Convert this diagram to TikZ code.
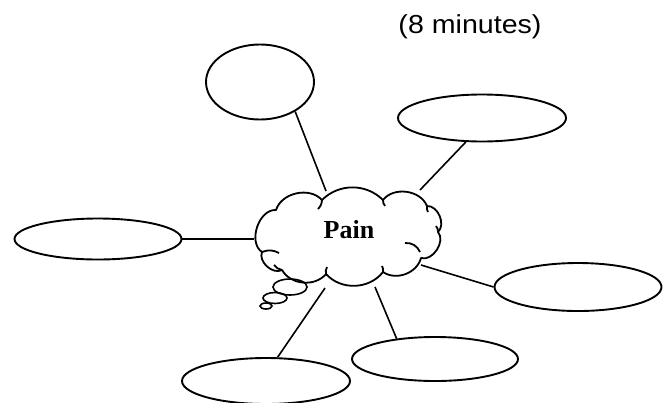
\documentclass[tikz,border=0pt]{standalone}
\usepackage{fontspec}
\setmainfont{Liberation Serif}
\newfontfamily\arialf{Liberation Sans}
\usetikzlibrary{shapes.geometric}
\tikzset{
  bubble/.style={draw, ellipse, line width=1.9pt, inner sep=0pt},
  link/.style={line width=1.6pt},
  cloudline/.style={line width=1.8pt, line join=round},
}
\begin{document}
\begin{tikzpicture}[x=1pt,y=-1pt]
\useasboundingbox (0,0) rectangle (668,402);
\begin{scope}
\clip (0,0) rectangle (668,402);
\node[font=\arialf\fontsize{26}{30}\selectfont, xscale=1.1, inner sep=0pt] (title) at (470,27) {(8 minutes)};
% cloud junctions
\coordinate (A) at (276,210);
\coordinate (B) at (322,200);
\coordinate (C) at (383,200);
\coordinate (D) at (427,206);
\coordinate (E) at (438,232);
\coordinate (F) at (421,258);
\coordinate (G) at (383,272);
\coordinate (H) at (326,274);
\coordinate (I) at (282,270);
\coordinate (J) at (262,252);
\draw[cloudline] (A) to[bend left=60] (B) to[bend left=45] (C) to[bend left=60] (D)
  to[bend left=70] (E) to[bend left=75] (F) to[bend left=55] (G) to[bend left=50] (H)
  to[bend left=55] (I) to[bend left=70] (J) to[bend left=75] cycle;
% inner strokes of the cloud
\draw[cloudline] (B) to[bend left=20] ++(-4,9);
\draw[cloudline] (C) to[bend right=20] ++(2,6);
\draw[cloudline] (D) to[bend right=20] ++(1,6);
\draw[cloudline] (E) ++(-2,-6) to[bend left=20] (E);
\draw[cloudline] (405,243) to[bend left=35] (420,252);
\draw[cloudline] (G) to[bend right=20] ++(-1,-6);
\draw[cloudline] (H) to[bend left=20] ++(1,-7);
\draw[cloudline] (I) to[bend left=20] ++(-8,-5);
\draw[cloudline] (J) to[bend left=25] ++(17,1);
\node (pain) at (350,240) {};
\node[font=\fontsize{26}{28}\selectfont\bfseries] (paintext) at (349,230) {Pain};
\node[bubble, minimum width=108pt, minimum height=75pt] (e1) at (260,82) {};
\node[bubble, minimum width=168pt, minimum height=47pt] (e2) at (482,118) {};
\node[bubble, minimum width=167pt, minimum height=41pt] (e3) at (98,239) {};
\node[bubble, minimum width=167pt, minimum height=48pt] (e4) at (578,287) {};
\node[bubble, minimum width=166pt, minimum height=44pt] (e5) at (435,359) {};
\node[bubble, minimum width=168pt, minimum height=46pt] (e6) at (266,381) {};
\node[bubble, line width=1.6pt, minimum width=34pt, minimum height=16pt] (b1) at (290,287) {};
\node[bubble, line width=1.6pt, minimum width=24pt, minimum height=11pt] (b2) at (275,298) {};
\node[bubble, line width=1.6pt, minimum width=12pt, minimum height=6pt] (b3) at (266,306) {};
\coordinate (c1) at (326,191);
\coordinate (c2) at (420,190);
\coordinate (c3) at (254,239);
\coordinate (c4) at (421,265);
\coordinate (c5) at (375,287);
\coordinate (c6) at (325,288);
\draw[link] (e1.-40) -- (c1);
\draw[link] (e2.-124) -- (c2);
\draw[link] (e3.east) -- (c3);
\draw[link] (e4.west) -- (c4);
\draw[link] (e5.152) -- (c5);
\draw[link] (e6.64) -- (c6);
\end{scope}
\end{tikzpicture}
\end{document}
